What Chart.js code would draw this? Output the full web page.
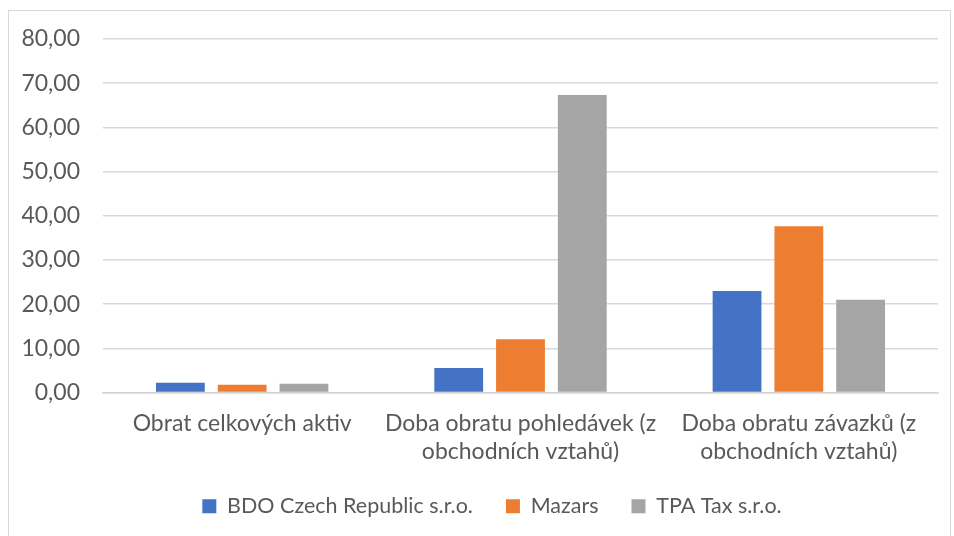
<!DOCTYPE html>
<html>
<head>
<meta charset="utf-8">
<script src="https://cdn.jsdelivr.net/npm/chart.js@4.4.0/dist/chart.umd.min.js"></script>
<style>
  html, body { margin: 0; padding: 0; background: #fff; }
  #wrap { position: absolute; left: 0; top: 0; width: 954px; height: 536px; }
</style>
</head>
<body>
<div id="wrap"><canvas id="chart" width="954" height="536"></canvas></div>
<script>
// categories (multi-line labels as in the original)
const categories = [
  "Obrat celkových aktiv",
  ["Doba obratu pohledávek (z", "obchodních vztahů)"],
  ["Doba obratu závazků (z", "obchodních vztahů)"]
];
const seriesNames = ["BDO Czech Republic s.r.o.", "Mazars", "TPA Tax s.r.o."];
const bdoValues = [2.20, 5.53, 22.95];
const mazarsValues = [1.74, 12.05, 37.65];
const tpaValues = [1.97, 67.35, 20.98];
const yTicks = [0, 10, 20, 30, 40, 50, 60, 70, 80];

const colors = ["#4472C4", "#ED7D31", "#A5A5A5"];
const textColor = "#595959";
const fontFamily = "Lato, 'Open Sans', sans-serif";

/* light grey frame around the whole chart, like the office export */
const framePlugin = {
  id: "frame",
  beforeDraw(chart) {
    const ctx = chart.ctx;
    ctx.save();
    ctx.fillStyle = "#fff";
    ctx.fillRect(0, 0, chart.width, chart.height);
    ctx.strokeStyle = "#d9d9d9";
    ctx.lineWidth = 1;
    ctx.strokeRect(8.5, 10.5, 942, 540);
    ctx.restore();
  }
};

/* legend in the original is centred a bit right of the canvas centre */
const legendShift = {
  id: "legendShift",
  afterLayout(chart) {
    if (chart.legend) {
      chart.legend.left += 23;
      chart.legend.right += 23;
    }
  }
};

const fmt = v => v.toFixed(2).replace(".", ",");

new Chart(document.getElementById("chart"), {
  type: "bar",
  data: {
    labels: categories,
    datasets: [
      { label: seriesNames[0], data: bdoValues, backgroundColor: colors[0] },
      { label: seriesNames[1], data: mazarsValues, backgroundColor: colors[1] },
      { label: seriesNames[2], data: tpaValues, backgroundColor: colors[2] }
    ]
  },
  options: {
    responsive: false,
    animation: false,
    layout: { padding: { top: 39, right: 16, bottom: 9, left: 0 } },
    datasets: {
      bar: { categoryPercentage: 0.666, barPercentage: 0.79 }
    },
    scales: {
      x: {
        afterFit: axis => { axis.height = 70; },
        grid: { display: false, drawTicks: false },
        border: { display: true, color: "#d4d4d4", width: 1.5 },
        ticks: {
          color: textColor,
          font: { family: fontFamily, size: 23, lineHeight: 1.18 },
          padding: 18,
          maxRotation: 0,
          autoSkip: false
        }
      },
      y: {
        min: 0,
        max: 80,
        afterBuildTicks: axis => { axis.ticks = yTicks.map(v => ({ value: v })); },
        afterFit: axis => { axis.width = 103; },
        grid: { color: "#d9d9d9", lineWidth: 1.5, drawTicks: false },
        border: { display: false },
        ticks: {
          color: textColor,
          font: { family: fontFamily, size: 23 },
          padding: 23,
          callback: v => fmt(v)
        }
      }
    },
    plugins: {
      tooltip: { enabled: false },
      legend: {
        position: "bottom",
        labels: {
          color: textColor,
          font: { family: fontFamily, size: 21.5 },
          boxWidth: 14,
          boxHeight: 14,
          padding: 33
        }
      }
    }
  },
  plugins: [framePlugin, legendShift]
});
</script>
</body>
</html>
